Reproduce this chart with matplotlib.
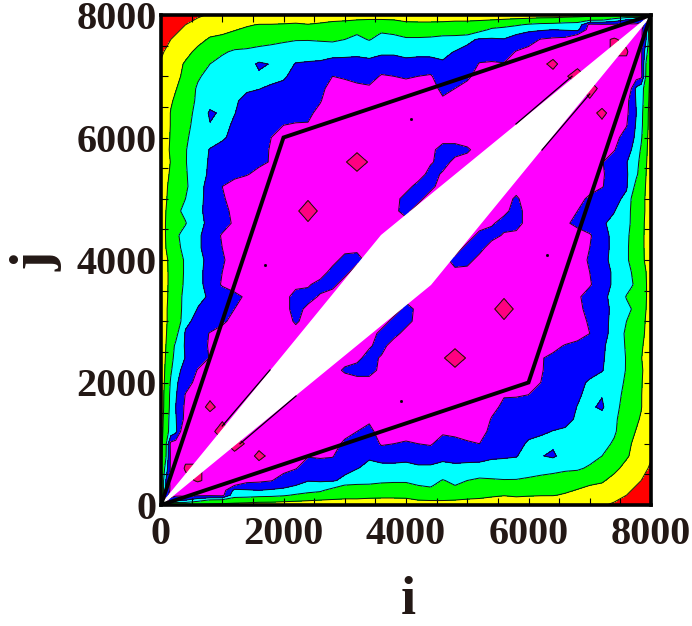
import numpy as np
import matplotlib
matplotlib.use("Agg")
import matplotlib.pyplot as plt
from matplotlib.colors import ListedColormap

plt.rcParams['font.family'] = ['Liberation Serif', 'DejaVu Serif']

grid = [0, 80, 160, 240, 320, 400, 600, 800, 1000, 1200, 1400, 1600, 1800, 2000, 2200, 2400, 2600, 2800,
        3000, 3200, 3400, 3600, 3800, 4000, 4200, 4400, 4600, 4800, 5000, 5200, 5400, 5600, 5800, 6000,
        6200, 6400, 6600, 6800, 7000, 7200, 7400, 7600, 7680, 7760, 7840, 7920, 8000]

# only one quarter of the map is listed, the picture is symmetric about both diagonals
# one row per j in grid, values for i = grid[0], grid[1], ...
quarter = [
    [1.5],
    [1.8, 5.5],
    [1.8, 4.5, 5.5],
    [1.8, 4.2, 5.2, 5.5],
    [1.8, 4.1, 5.2, 5.5, 5.5],
    [1.9, 4.0, 5.4, 5.5, 5.5, 5.5],
    [1.85, 3.4, 5.2, 5.5, 5.5, 6.2, 6.2],
    [1.8, 2.9, 5.2, 5.5, 5.5, 5.6, 5.6, 5.6],
    [1.7, 2.8, 5.3, 5.5, 5.5, 5.5, 5.6, 5.6, 5.6],
    [1.6, 2.65, 3.3, 3.75, 5.0, 5.3, 5.5, 5.5, 6.8, 5.6],
    [1.55, 2.55, 3.3, 3.9, 4.75, 5.2, 5.5, 5.5, 5.8, 5.6, 5.6],
    [1.5, 2.4, 3.25, 4.0, 4.7, 5.15, 5.5, 6.3, 5.6, 5.6, 5.6, 5.6],
    [1.45, 2.4, 3.2, 3.9, 4.45, 5.05, 5.5, 5.7, 5.6, 5.6, 5.6, 5.6, 5.6],
    [1.4, 2.3, 3.1, 3.8, 4.25, 4.6, 5.3, 5.5, 5.5, 5.5, 5.6, 5.6, 5.6, 5.6],
    [1.35, 2.2, 2.9, 3.45, 4.0, 4.3, 5.05, 5.5, 5.5, 5.5, 5.5, 5.6, 5.6, 5.6, 5.6],
    [1.3, 2.1, 2.75, 3.25, 3.65, 4.05, 4.55, 5.05, 5.4, 5.5, 5.5, 5.5, 5.6, 5.6, 5.6, 5.6],
    [1.3, 2.0, 2.6, 3.15, 3.7, 4.1, 4.6, 5.1, 5.4, 5.5, 5.5, 5.5, 5.5, 5.6, 5.6, 5.6, 5.6],
    [1.3, 1.95, 2.35, 2.7, 3.4, 4.1, 4.6, 5.05, 5.3, 5.5, 5.5, 5.5, 5.5, 5.5, 5.4, 5.5, 5.6, 5.6],
    [1.3, 1.9, 2.3, 2.65, 2.95, 3.8, 4.25, 4.55, 4.85, 5.25, 5.5, 5.5, 5.5, 5.5, 4.85, 5.4, 5.5, 5.6, 5.6],
    [1.3, 1.9, 2.3, 2.6, 2.95, 3.2, 4.05, 4.35, 4.7, 5.0, 5.4, 5.5, 5.5, 5.3, 4.7, 5.2, 5.5, 5.5, 5.6, 5.6],
    [1.3, 1.85, 2.25, 2.6, 2.95, 3.15, 3.7, 4.15, 4.45, 4.75, 5.15, 5.5, 5.5, 5.3, 4.7, 4.7, 5.1, 5.5, 5.5, 5.6, 5.6],
    [1.3, 1.85, 2.2, 2.55, 2.85, 3.15, 3.7, 4.4, 5.1, 5.4, 5.5, 5.5, 5.5, 5.4, 5.2, 5.1, 4.7, 4.7, 5.5, 5.5, 5.6, 5.6],
    [1.3, 1.85, 2.2, 2.5, 2.85, 3.1, 3.75, 4.35, 5.0, 5.35, 5.5, 5.5, 5.5, 5.5, 5.5, 5.5, 5.4, 4.7, 4.7, 5.5, 5.6, 5.6, 5.6],
    [1.3, 1.85, 2.25, 2.5, 2.85, 3.1, 3.75, 4.25, 4.9, 5.35, 5.5, 5.5, 5.5, 5.5, 5.5, 5.5, 5.5, 5.3, 4.7, 4.7, 5.3, 5.6, 5.6, 5.6],
    [1.4, 2.0, 2.35, 2.65, 3.0, 3.25, 3.85, 4.4, 5.0, 5.4, 5.5, 5.5, 5.5, 5.5, 5.5, 5.5, 5.5, 5.5, 5.3, 5.2, 5.3, 5.6, 5.6],
    [1.5, 2.05, 2.4, 2.8, 3.1, 3.3, 3.85, 4.4, 5.1, 5.4, 5.5, 5.5, 5.5, 5.5, 5.5, 5.5, 5.5, 5.5, 5.5, 5.5, 5.5, 5.6],
    [1.5, 2.05, 2.25, 2.5, 2.7, 2.95, 3.7, 4.25, 4.6, 5.15, 5.4, 5.5, 5.5, 5.5, 5.85, 5.95, 5.85, 5.5, 5.5, 5.5, 5.5],
    [1.5, 2.0, 2.35, 2.7, 3.0, 3.2, 3.8, 4.3, 4.75, 5.2, 5.45, 5.5, 5.5, 5.5, 5.9, 6.3, 5.9, 5.5, 5.5, 5.5],
    [1.5, 1.95, 2.2, 2.4, 2.75, 3.0, 3.7, 4.35, 4.9, 5.3, 5.5, 5.5, 5.5, 5.5, 5.85, 5.95, 5.85, 5.5, 5.5],
    [1.4, 1.9, 2.2, 2.4, 2.65, 2.85, 3.6, 4.4, 5.0, 5.3, 5.45, 5.5, 5.5, 5.5, 5.5, 5.5, 5.5, 5.5],
    [1.3, 1.65, 2.2, 2.4, 2.65, 2.9, 3.6, 4.15, 4.55, 4.8, 4.95, 5.2, 5.4, 5.5, 5.5, 5.5, 5.5],
    [1.2, 1.6, 2.05, 2.35, 2.65, 2.95, 3.6, 4.1, 4.3, 4.45, 4.65, 4.85, 5.05, 5.3, 5.5, 5.5],
    [1.2, 1.7, 2.15, 2.4, 2.65, 2.95, 3.5, 4.05, 4.25, 4.45, 4.6, 4.8, 5.05, 5.25, 5.45],
    [1.2, 1.6, 2.1, 2.35, 2.6, 2.9, 3.3, 3.6, 3.9, 4.2, 4.45, 4.75, 5.0, 5.25],
    [1.2, 1.6, 2.05, 2.3, 2.6, 2.85, 3.2, 3.95, 3.8, 4.1, 4.3, 4.55, 4.8],
    [1.2, 1.55, 2.05, 2.3, 2.55, 2.8, 3.15, 4.15, 3.85, 3.98, 4.25, 4.45],
    [1.2, 1.45, 1.9, 2.15, 2.4, 2.7, 3.1, 3.6, 3.7, 3.9, 4.2],
    [1.2, 1.5, 1.75, 1.95, 2.2, 2.5, 3.1, 3.35, 3.5, 3.7],
    [1.1, 1.4, 1.65, 1.85, 2.0, 2.25, 2.9, 3.25, 3.5],
    [1.1, 1.3, 1.5, 1.7, 1.9, 2.1, 2.6, 3.0],
    [0.85, 1.1, 1.25, 1.4, 1.6, 1.75, 2.2],
    [0.6, 0.75, 1.0, 1.15, 1.35, 1.5],
    [0.5, 0.65, 0.85, 1.0, 1.2],
    [0.4, 0.55, 0.7, 0.85],
    [0.3, 0.45, 0.6],
    [0.25, 0.35],
    [0.2],
]

levels = [0, 1, 2, 3, 4, 5, 6, 7]
colors = ['#ff0000', '#ffff00', '#00ff00', '#00ffff', '#0000ff', '#ff00ff', '#ff0080']

# white part along the diagonal
white_i = [0, 3600, 8000, 4400]
white_j = [0, 4400, 8000, 3600]

# thick black outline
line_i = [0, 2000, 8000, 6000, 0]
line_j = [0, 6000, 8000, 2000, 0]

# thin lines next to the white part, one pair per segment
edge_i = [[1000, 1780], [1290, 2205], [6710, 5795], [7000, 6220]]
edge_j = [[1290, 2205], [1000, 1780], [7000, 6220], [6710, 5795]]

# tiny specks
dot_i = [1700, 3920, 4080, 6300]
dot_j = [3920, 1700, 6300, 4080]

ticks = [0, 2000, 4000, 6000, 8000]
text_color = '#231815'

n = len(grid)
Z = np.zeros((n, n))
for m, row in enumerate(quarter):
    assert len(row) == min(m, n - 1 - m) + 1, m
    for k, v in enumerate(row):
        Z[m, k] = v
        Z[k, m] = v
        Z[n - 1 - k, n - 1 - m] = v
        Z[n - 1 - m, n - 1 - k] = v

fig = plt.figure(figsize=(6.92, 6.26), dpi=100)
ax = fig.add_axes([161 / 692, (626 - 505) / 626, 490 / 692, 490 / 626])

ax.contourf(grid, grid, Z, levels=levels, cmap=ListedColormap(colors))
ax.contour(grid, grid, Z, levels=levels[1:-1], colors='#101010', linewidths=0.7)
ax.fill(white_i, white_j, color='white', zorder=3)
for ei, ej in zip(edge_i, edge_j):
    ax.plot(ei, ej, color='black', lw=0.9, zorder=4)
ax.plot(line_i, line_j, color='black', lw=2.8, zorder=4, solid_joinstyle='miter')
ax.plot(dot_i, dot_j, 's', color='black', ms=1, zorder=4)

ax.set_xlim(0, 8000)
ax.set_ylim(0, 8000)
ax.set_xticks(ticks)
ax.set_yticks(ticks)
ax.set_xticks(np.arange(0, 8001, 500), minor=True)
ax.set_yticks(np.arange(0, 8001, 500), minor=True)
ax.tick_params(which='both', direction='in', top=True, right=True, length=5, width=0.8, color='black', zorder=5)
ax.tick_params(axis='x', which='major', labelsize=29, labelcolor=text_color, pad=8)
ax.tick_params(axis='y', which='major', labelsize=29, labelcolor=text_color, pad=3)
for lab in ax.get_xticklabels() + ax.get_yticklabels():
    lab.set_fontweight('bold')
for s in ax.spines.values():
    s.set_linewidth(2.6)
    s.set_zorder(6)

fig.text(408 / 692, 1 - 614 / 626, 'i', fontsize=39, fontweight='bold', color=text_color, ha='center', va='baseline')
fig.text(37 / 692, 1 - 261 / 626, 'j', fontsize=42, fontweight='bold', color=text_color, ha='center', va='center', rotation=90)

fig.savefig('out.png', dpi=100)
